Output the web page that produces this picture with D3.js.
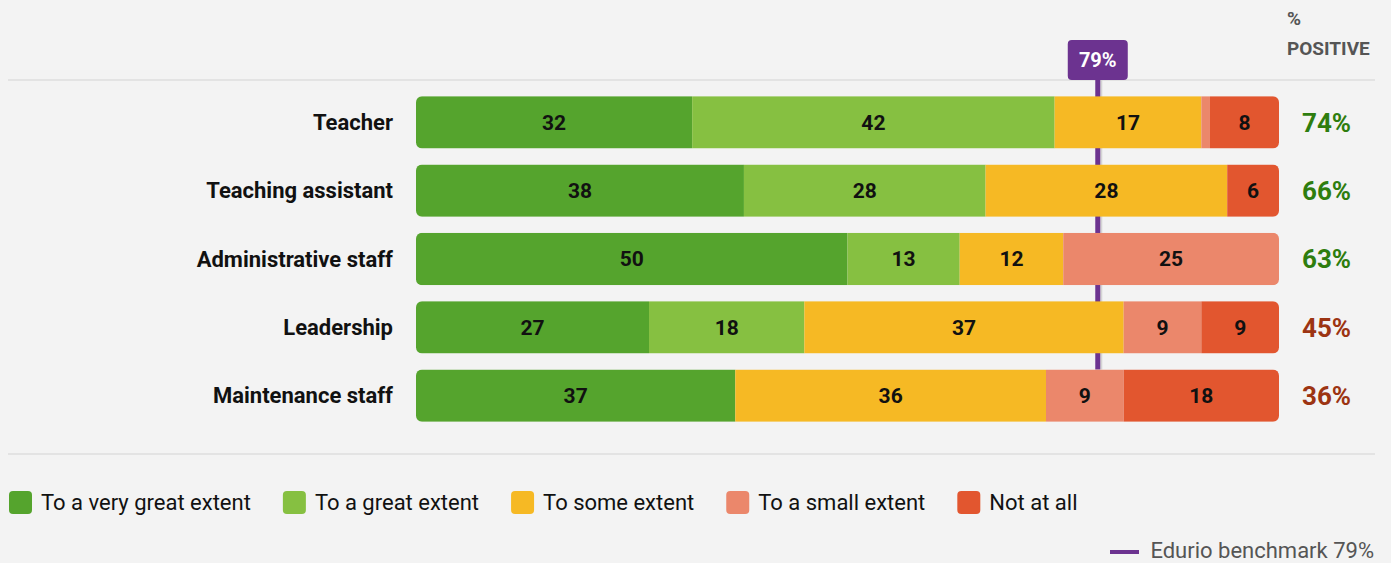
<!DOCTYPE html>
<html>
<head>
<meta charset="utf-8">
<script src="https://cdn.jsdelivr.net/npm/d3@7"></script>
<style>
  html, body { margin: 0; padding: 0; background: #f3f3f3; }
  svg { display: block; font-family: Roboto, "Noto Sans", sans-serif; }
</style>
</head>
<body>
<div id="chart"></div>
<script>
var groups = ["Teacher", "Teaching assistant", "Administrative staff", "Leadership", "Maintenance staff"]
var keys = ["To a very great extent", "To a great extent", "To some extent", "To a small extent", "Not at all"]
var veryGreat = [32, 38, 50, 27, 37]
var great = [42, 28, 13, 18, 0]
var some = [17, 28, 12, 37, 36]
var small = [1, 0, 25, 9, 9]
var notAtAll = [8, 6, 0, 9, 18]
var positive = [74, 66, 63, 45, 36]
var benchmark = 79

var colors = ["#55a42d", "#86c041", "#f6b924", "#eb876b", "#e2562f"]

var w = 1391
var h = 563
var barLeft = 416, barRight = 1279

var data = groups.map(function(g, i) {
  return {
    group: g,
    "To a very great extent": veryGreat[i],
    "To a great extent": great[i],
    "To some extent": some[i],
    "To a small extent": small[i],
    "Not at all": notAtAll[i]
  }
})

var series = d3.stack().keys(keys)(data)

var xScale = d3.scaleLinear().domain([0, 100]).range([barLeft, barRight])
var yScale = d3.scaleBand().domain(groups).range([88, 430]).paddingInner(0.235).paddingOuter(0.12)
var zColors = d3.scaleOrdinal().domain(keys).range(colors)

var svg = d3.select("#chart").append("svg")
  .attr("width", w)
  .attr("height", h)

svg.append("rect").attr("width", w).attr("height", h).attr("fill", "#f3f3f3")

// separators
svg.append("line").attr("x1", 8).attr("x2", 1375).attr("y1", 80).attr("y2", 80)
  .attr("stroke", "#e3e3e3").attr("stroke-width", 2)
svg.append("line").attr("x1", 8).attr("x2", 1375).attr("y1", 454).attr("y2", 454)
  .attr("stroke", "#e3e3e3").attr("stroke-width", 2)

// header of the positive column
svg.append("text").attr("x", 1287).attr("y", 25).text("%")
  .attr("font-size", 19).attr("font-weight", 700).attr("fill", "#555")
svg.append("text").attr("x", 1287).attr("y", 55).text("POSITIVE")
  .attr("font-size", 19).attr("font-weight", 700).attr("fill", "#555")

// benchmark line behind bars
var bx = xScale(benchmark)
var lastTop = yScale(groups[groups.length - 1])
svg.append("rect").attr("x", bx + 2.5).attr("y", 80).attr("width", 2).attr("height", lastTop - 80)
  .attr("fill", "#d4d4d4")
svg.append("rect").attr("x", bx - 2.5).attr("y", 80).attr("width", 5).attr("height", lastTop - 80)
  .attr("fill", "#6c3390")
svg.append("rect").attr("x", bx - 30).attr("y", 40).attr("width", 60).attr("height", 40).attr("rx", 4)
  .attr("fill", "#6c3390")
svg.append("text").attr("x", bx).attr("y", 60).attr("dy", "0.36em").attr("text-anchor", "middle")
  .attr("font-size", 20).attr("font-weight", 700).attr("fill", "#fff")
  .text(benchmark + "%")

// clip each row to a rounded bar
var defs = svg.append("defs")
groups.forEach(function(g, i) {
  defs.append("clipPath").attr("id", "row" + i)
    .append("rect")
    .attr("x", xScale(0)).attr("y", yScale(g))
    .attr("width", xScale(100) - xScale(0)).attr("height", yScale.bandwidth())
    .attr("rx", 6)
})

var rows = svg.append("g").selectAll("g.row").data(groups).join("g")
  .attr("class", "row")
  .attr("clip-path", function(d, i) { return "url(#row" + i + ")" })

rows.selectAll("rect").data(function(g, i) {
  return series.map(function(s) { return {key: s.key, v: s[i]} })
}).join("rect")
  .attr("x", function(d) { return xScale(d.v[0]) })
  .attr("y", function(d) { return yScale(d.v.data.group) })
  .attr("width", function(d) { return xScale(d.v[1]) - xScale(d.v[0]) })
  .attr("height", yScale.bandwidth())
  .attr("fill", function(d) { return zColors(d.key) })

var labels = svg.append("g")
series.forEach(function(s) {
  s.forEach(function(d) {
    var val = d[1] - d[0]
    if (val < 3) return
    labels.append("text")
      .attr("x", (xScale(d[0]) + xScale(d[1])) / 2)
      .attr("y", yScale(d.data.group) + yScale.bandwidth() / 2)
      .attr("dy", "0.35em")
      .attr("text-anchor", "middle")
      .attr("font-size", 21).attr("font-weight", 700).attr("fill", "#111")
      .text(val)
  })
})

// category labels
svg.append("g").selectAll("text").data(groups).join("text")
  .attr("x", 393)
  .attr("y", function(d) { return yScale(d) + yScale.bandwidth() / 2 })
  .attr("dy", "0.35em")
  .attr("text-anchor", "end")
  .attr("font-size", 22).attr("font-weight", 700).attr("fill", "#111")
  .text(function(d) { return d })

// positive share
svg.append("g").selectAll("text").data(positive).join("text")
  .attr("x", 1302)
  .attr("y", function(d, i) { return yScale(groups[i]) + yScale.bandwidth() / 2 })
  .attr("dy", "0.36em")
  .attr("font-size", 26).attr("font-weight", 700)
  .attr("fill", function(d) { return d >= 50 ? "#2e7d0e" : "#9c3412" })
  .text(function(d) { return d + "%" })

// legend
var legend = svg.append("g")
var lx = 9
keys.forEach(function(k) {
  legend.append("rect").attr("x", lx).attr("y", 491).attr("width", 23).attr("height", 23).attr("rx", 4)
    .attr("fill", zColors(k))
  var t = legend.append("text").attr("x", lx + 32).attr("y", 502).attr("dy", "0.35em")
    .attr("font-size", 22).attr("fill", "#111").text(k)
  lx += 32 + t.node().getComputedTextLength() + 32
})

// benchmark key
svg.append("line").attr("x1", 1110).attr("x2", 1139).attr("y1", 552).attr("y2", 552)
  .attr("stroke", "#6c3390").attr("stroke-width", 4)
svg.append("text").attr("x", 1374).attr("y", 550).attr("dy", "0.35em").attr("text-anchor", "end")
  .attr("font-size", 22).attr("fill", "#555").text("Edurio benchmark " + benchmark + "%")
</script>
</body>
</html>
